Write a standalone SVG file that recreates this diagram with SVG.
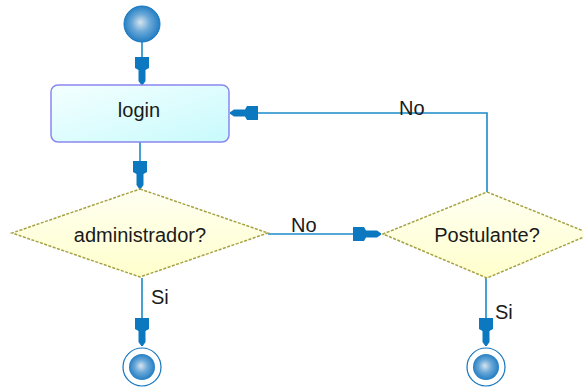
<svg xmlns="http://www.w3.org/2000/svg" width="583" height="390" viewBox="0 0 583 390">
  <style>
    .lbl { font-family: "Liberation Sans", Arial, sans-serif; font-size: 20px; fill: #1a1a1a; }
    .edge { fill: none; stroke: #1b8ac9; stroke-width: 1.6; marker-end: url(#nib); }
    .dec { fill: url(#decFill); stroke: #a6a244; stroke-width: 1.5; stroke-dasharray: 3 1.5; }
  </style>
  <defs>
    <radialGradient id="ball" cx="50%" cy="50%" r="55%" fx="45%" fy="45%">
      <stop offset="0" stop-color="#d8e4ee"/>
      <stop offset="0.45" stop-color="#6aa8d8"/>
      <stop offset="1" stop-color="#1676bf"/>
    </radialGradient>
    <linearGradient id="actFill" x1="0" y1="0" x2="1" y2="1">
      <stop offset="0" stop-color="#f4ffff"/>
      <stop offset="1" stop-color="#c8fafc"/>
    </linearGradient>
    <linearGradient id="decFill" x1="0" y1="0" x2="0" y2="1">
      <stop offset="0" stop-color="#fffff2"/>
      <stop offset="1" stop-color="#ffffcc"/>
    </linearGradient>
    <marker id="nib" markerUnits="userSpaceOnUse" markerWidth="30" markerHeight="18" refX="28" refY="8" orient="auto" overflow="visible">
      <path d="M0,1 L11,1 L13,4.5 L24,4.5 L28,7.3 L28,8.7 L24,11.5 L13,11.5 L11,15 L0,15 Z" fill="#0b78bf"/>
    </marker>
  </defs>

  <g id="connectors">
    <path class="edge" d="M142,42 L142,85"/>
    <path class="edge" d="M140,142 L140,189"/>
    <path class="edge" d="M268,234 L381,234"/>
    <path class="edge" d="M487,192 L487,113 L230,113"/>
    <path class="edge" d="M142,278 L142,346"/>
    <path class="edge" d="M486,278 L486,346"/>
    <text class="lbl" x="291" y="232">No</text>
    <text class="lbl" x="399" y="115">No</text>
    <text class="lbl" x="151" y="304">Si</text>
    <text class="lbl" x="495" y="319">Si</text>
  </g>

  <g id="start">
    <circle cx="142" cy="24" r="18" fill="url(#ball)" stroke="#1676bf" stroke-width="1"/>
  </g>

  <g id="login">
    <rect x="51" y="85" width="178" height="57" rx="7" fill="url(#actFill)" stroke="#8a86f0" stroke-width="1.5"/>
    <text class="lbl" x="139" y="117" text-anchor="middle">login</text>
  </g>

  <g id="administrador">
    <polygon class="dec" points="140,189 268,233 140,277 12,233"/>
    <text class="lbl" x="140" y="242" text-anchor="middle">administrador?</text>
  </g>

  <g id="postulante">
    <polygon class="dec" points="487,192 591,234 487,278 383,234"/>
    <text class="lbl" x="487" y="242" text-anchor="middle">Postulante?</text>
  </g>

  <g id="end-admin">
    <circle cx="142" cy="367" r="19" fill="none" stroke="#1676bf" stroke-width="1.2"/>
    <circle cx="142" cy="367" r="13" fill="url(#ball)"/>
  </g>

  <g id="end-postulante">
    <circle cx="486" cy="367" r="19" fill="none" stroke="#1676bf" stroke-width="1.2"/>
    <circle cx="486" cy="367" r="13" fill="url(#ball)"/>
  </g>
</svg>
